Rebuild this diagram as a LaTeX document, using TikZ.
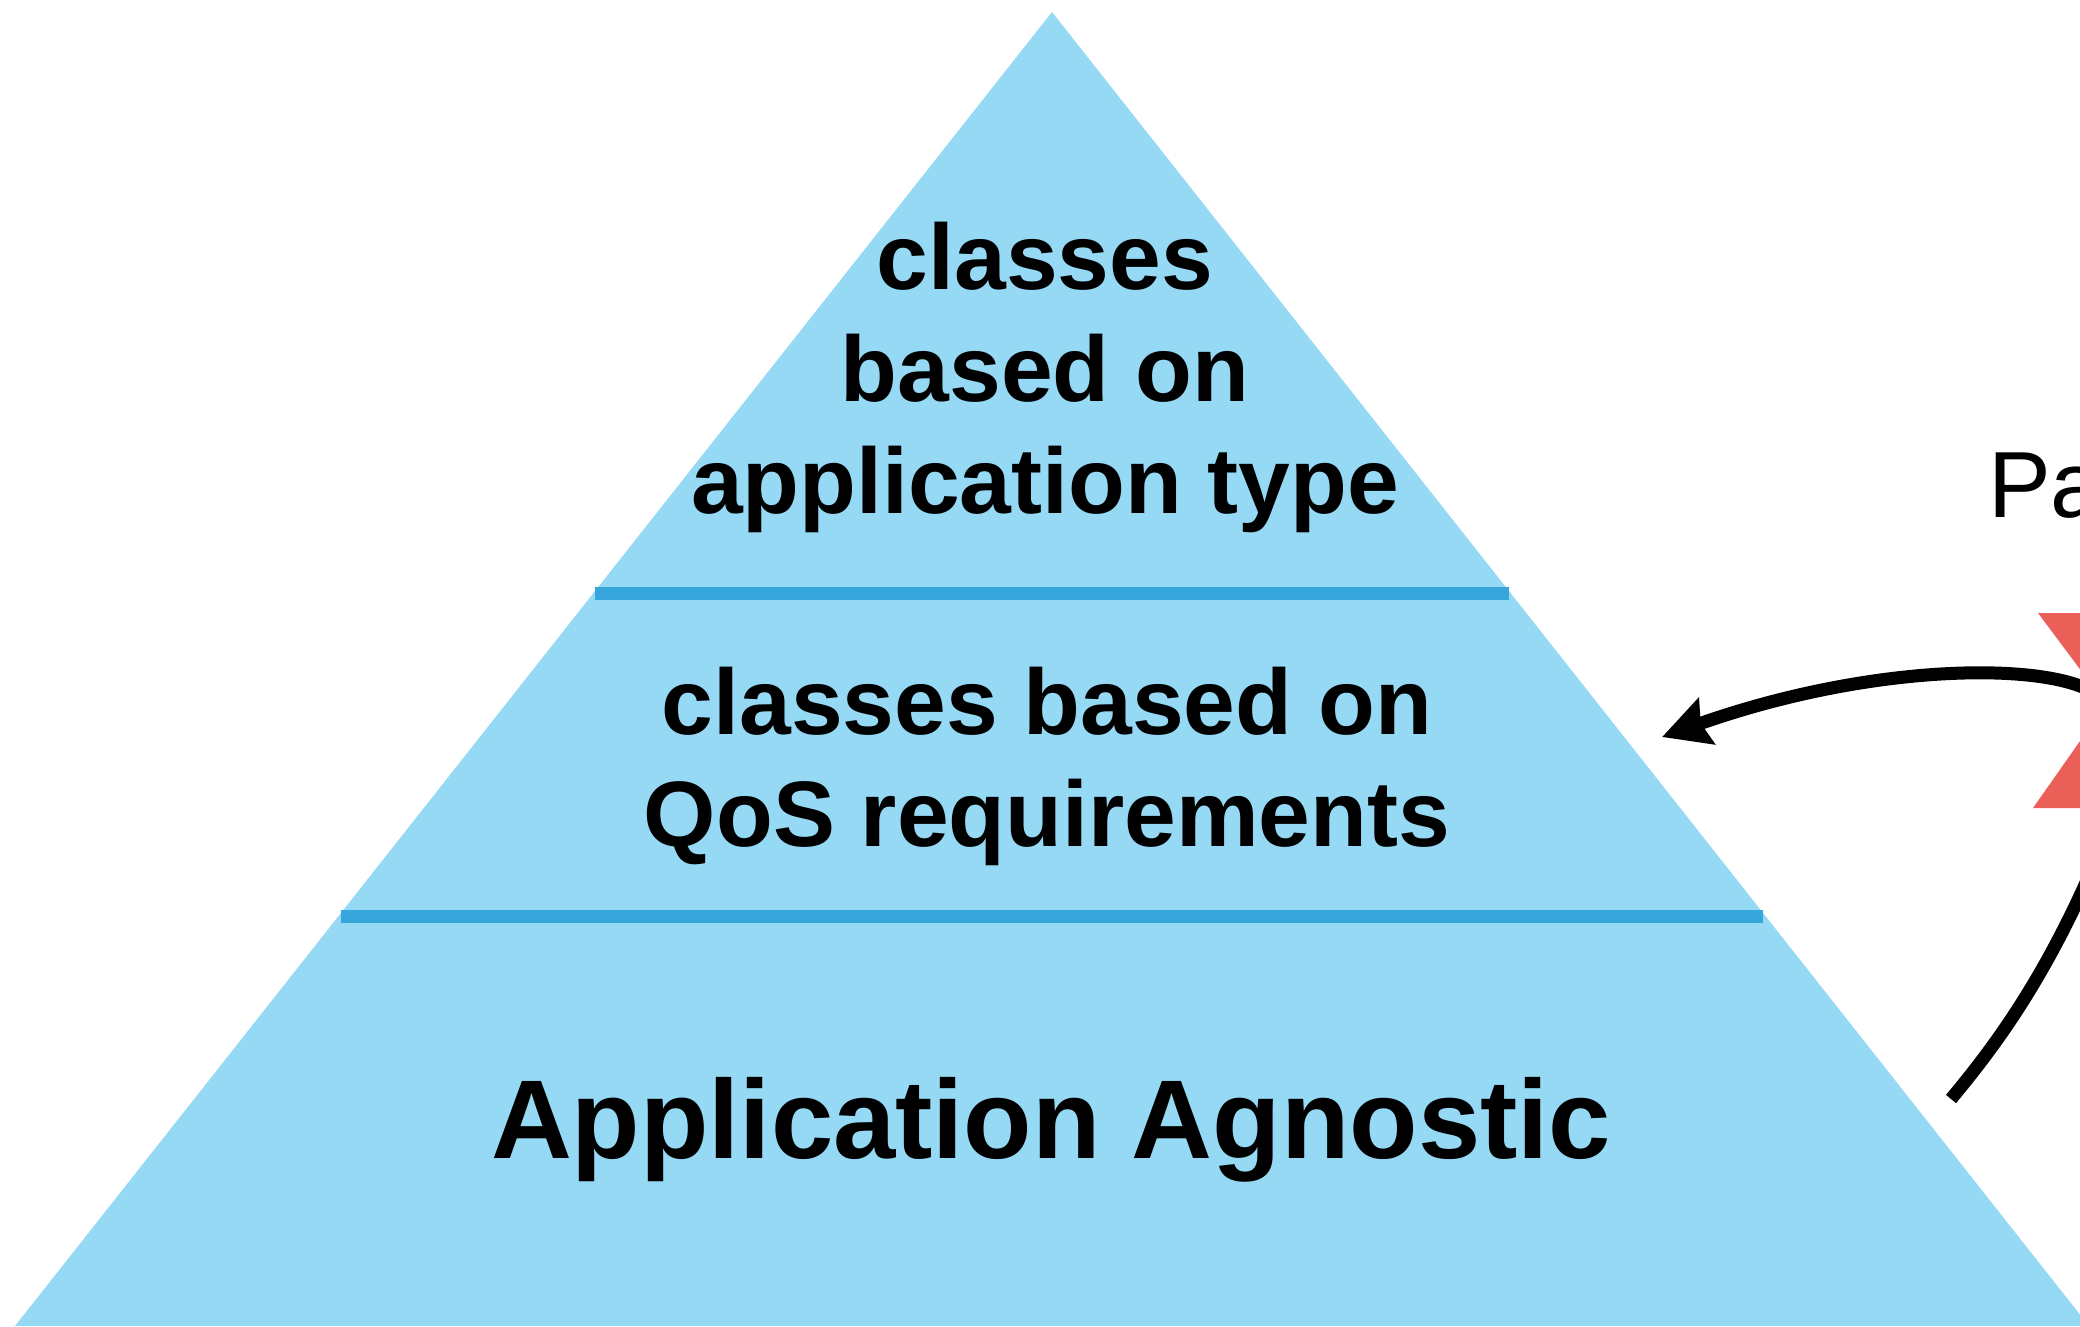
\documentclass[tikz,border=0pt]{standalone}
\usepackage{fontspec}
\setmainfont{Liberation Sans}
\usetikzlibrary{arrows.meta, positioning}
\definecolor{layerfill}{RGB}{150,217,245}
\definecolor{layerline}{RGB}{54,166,220}
\definecolor{crossred}{RGB}{235,95,89}
\tikzset {
    layer text/.style = {
        align = center, inner sep = 0pt, anchor = base,
        font = \bfseries\fontsize{93}{111.6}\selectfont
    },
    base text/.style = {
        layer text,
        font = \bfseries\fontsize{112}{134}\selectfont
    },
    side text/.style = {
        inner sep = 0pt, anchor = base west,
        font = \fontsize{94}{113}\selectfont
    },
    divider/.style = {draw = layerline, line width = 13pt},
    flow/.style = {line width = 13pt},
    flow arrow/.style = {
        flow,
        arrows = {-Stealth[length = 47pt, width = 48pt, inset = 6pt]}
    }
}

\begin{document}
\begin{tikzpicture}[x = 1pt, y = -1pt]
    \useasboundingbox (0, 0) rectangle (2080, 1326);
    \clip (0, 0) rectangle (2080, 1326);
    % pyramid
    \coordinate (apex) at (1052, 12);
    \coordinate (baseL) at (15, 1326);
    \coordinate (baseR) at (2089, 1326);
    \fill [layerfill] (apex) -- (baseL) -- (baseR) -- cycle;
    \coordinate (cutAL) at (595, 593);
    \coordinate (cutAR) at (1509, 593);
    \coordinate (cutBL) at (341, 916);
    \coordinate (cutBR) at (1763, 916);
    \draw [divider] (cutAL) -- (cutAR);
    \draw [divider] (cutBL) -- (cutBR);
    \node (apptype) [layer text] at (1045, 513)
        {classes\\based on\\application type};
    \node (qos) [layer text] at (1047, 846)
        {classes based on\\QoS requirements};
    \node (agnostic) [base text] at (1051, 1158) {Application Agnostic};
    % right side
    \node (pa) [side text] at (1988, 517) {Pa};
    \fill [crossred] (2038, 613) -- (2200, 613) -- (2200, 808)
        -- (2033, 808) -- (2106, 704) -- cycle;
    \coordinate (crossMid) at (2100, 697);
    \coordinate (qosTip) at (1662, 737);
    \draw [flow arrow] (crossMid) .. controls (2060, 662) and (1880, 660) .. (qosTip);
    \coordinate (lowEnd) at (1951, 1099);
    \coordinate (lowOut) at (2120, 800);
    \draw [flow] (lowEnd) .. controls (2000, 1040) and (2060, 960) .. (lowOut);
\end{tikzpicture}
\end{document}
